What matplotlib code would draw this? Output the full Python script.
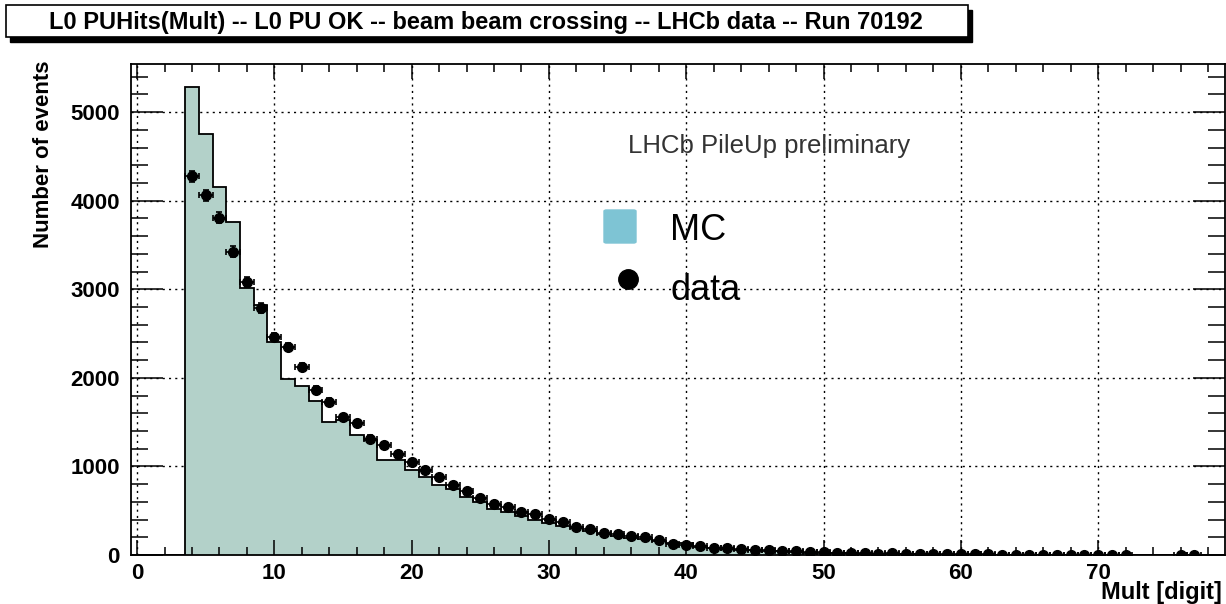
import numpy as np
import matplotlib.pyplot as plt
from matplotlib.patches import Rectangle, FancyBboxPatch
from matplotlib.lines import Line2D

plt.rcParams['font.family'] = ['Liberation Sans', 'DejaVu Sans']

# bins of width 1 centred on integers 0..79
bin_centers = np.arange(0, 80)

# MC histogram (filled)
mc_counts = np.array([
    0, 0, 0, 0, 5279, 4748, 4149, 3761, 3019, 2820,
    2405, 1991, 1904, 1734, 1500, 1520, 1350, 1300, 1076, 1076,
    960, 880, 790, 740, 660, 600, 520, 480, 440, 395,
    360, 330, 300, 275, 240, 215, 195, 180, 160, 135,
    130, 95, 80, 70, 60, 52, 45, 40, 32, 28,
    25, 20, 17, 14, 12, 10, 8, 6, 5, 0,
    0, 0, 0, 0, 0, 0, 0, 0, 0, 0,
    0, 0, 0, 0, 0, 0, 0, 0, 0, 0,
])

# data points
data_counts = np.array([
    0, 0, 0, 0, 4275, 4060, 3806, 3425, 3085, 2790,
    2460, 2350, 2125, 1865, 1730, 1555, 1490, 1313, 1240, 1143,
    1050, 958, 875, 795, 722, 648, 580, 540, 486, 458,
    410, 371, 320, 298, 252, 240, 210, 200, 165, 125,
    118, 100, 80, 77, 64, 62, 52, 45, 40, 35,
    32, 22, 24, 18, 15, 17, 12, 11, 10, 9,
    7, 6, 6, 5, 5, 3, 3, 3, 3, 2,
    2, 2, 2, 0, 0, 0, 1, 1, 0, 0,
])

x_major = [0, 10, 20, 30, 40, 50, 60, 70]
y_major = [0, 1000, 2000, 3000, 4000, 5000]

edges = np.append(bin_centers - 0.5, bin_centers[-1] + 0.5)

W, H = 1226, 604
fig = plt.figure(figsize=(W / 100, H / 100), dpi=100)
ax = fig.add_axes([131 / W, 1 - 555 / H, (1225 - 131) / W, (555 - 64) / H])

ax.set_xlim(-0.44, 79.24)
ax.set_ylim(0, 1.05 * mc_counts.max())

# grid below the histogram
for v in x_major:
    ax.axvline(v, color='black', lw=1.0, ls=(0, (1.5, 3)), zorder=0.5)
for v in y_major[1:]:
    ax.axhline(v, color='black', lw=1.0, ls=(0, (1.5, 3)), zorder=0.5)

# red empty-histogram line where MC is zero
empty = mc_counts == 0
ax.hlines(np.zeros(empty.sum()), edges[:-1][empty], edges[1:][empty],
          color='red', lw=2, zorder=0.8)

ax.stairs(mc_counts, edges, fill=True, color='#b3d1c9', zorder=1)
ax.stairs(mc_counts, edges, color='black', lw=1.3, zorder=1.5)

m = data_counts > 0
ax.errorbar(bin_centers[m], data_counts[m], xerr=0.5, yerr=np.sqrt(data_counts[m]),
            fmt='o', color='black', ms=7, elinewidth=1.2, capsize=2.5, capthick=1.2,
            zorder=3)

ax.set_xticks(x_major)
ax.set_xticks(np.arange(0, 80, 2), minor=True)
ax.set_yticks(y_major)
ax.set_yticks(np.arange(0, 5600, 200), minor=True)
ax.tick_params(axis='y', which='major', direction='in', length=23, width=1.1,
               right=True, labelsize=16, pad=8)
ax.tick_params(axis='y', which='minor', direction='in', length=12, width=1.1, right=True)
ax.tick_params(axis='x', which='major', direction='in', length=11, width=1.1,
               top=True, labelsize=16, pad=6)
ax.tick_params(axis='x', which='minor', direction='in', length=5.5, width=1.1, top=True)
for lab in ax.get_xticklabels() + ax.get_yticklabels():
    lab.set_fontweight('bold')
for s in ax.spines.values():
    s.set_linewidth(1.3)

# axis titles
fig.text(44 / W, 1 - 60 / H, 'Number of events', rotation=90, ha='center', va='top',
         fontsize=16, fontweight='bold')
fig.text(1222 / W, 1 - 592 / H, 'Mult [digit]', ha='right', va='center',
         fontsize=17, fontweight='bold')

# labels in the frame
fig.text(628 / W, 1 - 146 / H, 'LHCb PileUp preliminary', ha='left', va='center',
         fontsize=18.5, color='#333333')
fig.patches.append(FancyBboxPatch((604 / W, 1 - 243 / H), 32 / W, 33 / H,
                                  boxstyle='round,pad=0,rounding_size=0.002',
                                  transform=fig.transFigure, color='#7ec4d4'))
fig.text(670 / W, 1 - 230 / H, 'MC', ha='left', va='center', fontsize=26)
fig.lines.append(Line2D([628 / W], [1 - 279 / H], marker='o', ms=14, color='black',
                        transform=fig.transFigure))
fig.text(670 / W, 1 - 290 / H, 'data', ha='left', va='center', fontsize=26)

# title box with shadow
fig.patches.append(Rectangle((10 / W, 1 - 42 / H), 962 / W, 32 / H,
                             transform=fig.transFigure, color='black'))
fig.patches.append(Rectangle((6 / W, 1 - 37 / H), 962 / W, 32 / H,
                             transform=fig.transFigure, facecolor='white',
                             edgecolor='black', lw=1.2))
fig.text(486 / W, 1 - 22 / H,
         'L0 PUHits(Mult) -- L0 PU OK -- beam beam crossing -- LHCb data -- Run 70192',
         ha='center', va='center', fontsize=17, fontweight='bold')

fig.savefig('out.png', dpi=100)
